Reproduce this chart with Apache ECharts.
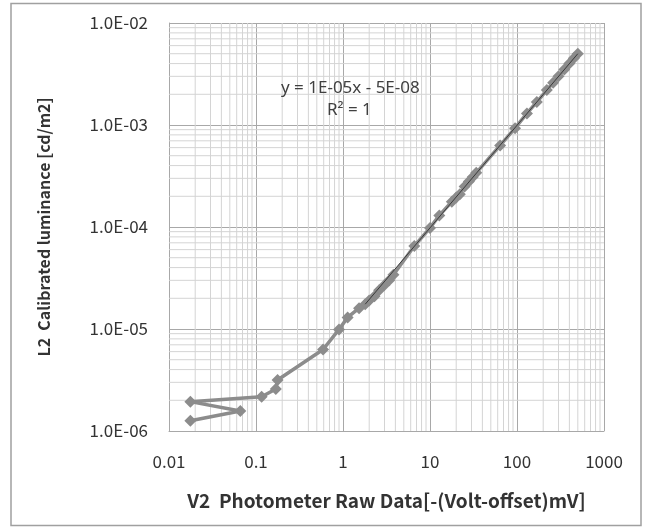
<!DOCTYPE html>
<html>

<head>
  <meta charset="UTF-8" />
  <title></title>
  <style type="text/css">
    * {
      margin: 0;
      padding: 0;
    }
    #main {
      width: 645px;
      height: 528px;
      background-color: #fff;
    }
  </style>
</head>

<body>
  <div id="main"></div>
</body>
<script src="https://cdn.jsdelivr.net/npm/echarts@6/dist/echarts.min.js"></script>
<script type="text/javascript">
  let rawX = [500, 450, 400, 350, 300, 260, 220, 169, 130, 95, 64, 34, 31, 28, 25, 22, 20, 17.8, 12.8, 10,
    6.6, 3.8, 3.4, 3.0, 2.6, 2.3, 2.0, 1.8, 1.53, 1.13, 0.9, 0.59, 0.177, 0.169, 0.116, 0.0176, 0.066, 0.0176]
  let lumY = [5.0e-3, 4.5e-3, 4.0e-3, 3.5e-3, 3.0e-3, 2.6e-3, 2.2e-3, 1.68e-3, 1.3e-3, 9.3e-4, 6.3e-4, 3.4e-4,
    3.1e-4, 2.8e-4, 2.5e-4, 2.1e-4, 1.95e-4, 1.77e-4, 1.3e-4, 9.8e-5, 6.5e-5, 3.4e-5, 3.0e-5, 2.7e-5, 2.4e-5,
    2.1e-5, 1.9e-5, 1.75e-5, 1.6e-5, 1.3e-5, 9.9e-6, 6.3e-6, 3.16e-6, 2.58e-6, 2.17e-6, 1.94e-6, 1.57e-6, 1.26e-6]
  // 近似直线 y = 1E-05x - 5E-08 的两端
  let trendX = [1.8, 500]
  let trendY = [1.75e-5, 5.0e-3]
  // 坐标范围
  let xRange = [0.01, 1000]
  let yRange = [1e-6, 1e-2]

  let fontJP = '"Noto Sans CJK JP", "Noto Sans", sans-serif'
  let majorColor = '#a8a8a8'
  let minorColor = '#d4d4d4'

  // 对数网格的副刻度 2..9
  function minorValues(range) {
    let list = []
    for (let e = Math.round(Math.log10(range[0])); e < Math.round(Math.log10(range[1])); e++) {
      for (let k = 2; k <= 9; k++) {
        list.push(+(k * Math.pow(10, e)).toPrecision(3))
      }
    }
    return list
  }

  // 副网格线: 用 '-' 断开的折线
  let minorData = []
  minorValues(xRange).forEach(v => {
    minorData.push([v, yRange[0]], [v, yRange[1]], ['-', '-'])
  })
  minorValues(yRange).forEach(v => {
    minorData.push([xRange[0], v], [xRange[1], v], ['-', '-'])
  })

  let myChart = echarts.init(document.getElementById('main'))
  let option = {
    animation: false,
    grid: {
      left: 169,
      top: 23,
      right: 41,
      bottom: 97
    },
    graphic: [{
      type: 'rect',
      shape: { x: 11, y: 3.5, width: 630, height: 522 },
      style: { fill: 'none', stroke: '#a0a0a0', lineWidth: 1.5 },
      silent: true
    }, {
      type: 'text',
      left: 281,
      top: 80,
      z: 10,
      style: {
        text: 'y = 1E-05x - 5E-08',
        font: '17px "Noto Sans", sans-serif',
        fill: '#404040'
      }
    }, {
      type: 'text',
      left: 327,
      top: 102,
      z: 10,
      style: {
        text: 'R² = 1',
        font: '17px "Noto Sans", sans-serif',
        fill: '#404040'
      }
    }],
    xAxis: {
      type: 'log',
      logBase: 10,
      min: xRange[0],
      max: xRange[1],
      name: 'V2  Photometer Raw Data[-(Volt-offset)mV]',
      nameLocation: 'middle',
      nameGap: 60,
      nameTextStyle: {
        fontFamily: fontJP,
        fontWeight: 'bold',
        fontSize: 19,
        color: '#333'
      },
      axisLine: { lineStyle: { color: majorColor } },
      axisTick: { show: false },
      axisLabel: {
        margin: 22,
        fontFamily: fontJP,
        fontSize: 17,
        color: '#333',
        formatter: v => String(Number(v.toPrecision(3)))
      },
      splitLine: { show: true, lineStyle: { color: majorColor } }
    },
    yAxis: {
      type: 'log',
      logBase: 10,
      min: yRange[0],
      max: yRange[1],
      name: 'L2  Calibrated luminance [cd/m2]',
      nameLocation: 'middle',
      nameGap: 117,
      nameTextStyle: {
        fontFamily: fontJP,
        fontWeight: 'bold',
        fontSize: 16,
        color: '#333'
      },
      axisLine: { show: true, lineStyle: { color: majorColor } },
      axisTick: { show: false },
      axisLabel: {
        margin: 21,
        fontFamily: fontJP,
        fontSize: 17,
        color: '#333',
        formatter: v => {
          let s = v.toExponential(1).toUpperCase()
          return s.replace(/E([+-])(\d)$/, 'E$10$2')
        }
      },
      splitLine: { show: true, lineStyle: { color: majorColor } }
    },
    series: [{
      // 副网格线
      type: 'line',
      data: minorData,
      z: 1,
      silent: true,
      symbol: 'none',
      connectNulls: false,
      lineStyle: { color: minorColor, width: 1 }
    }, {
      type: 'line',
      data: rawX.map((x, i) => [x, lumY[i]]),
      z: 3,
      symbol: 'diamond',
      symbolSize: 12,
      itemStyle: { color: '#8c8c8c' },
      lineStyle: { color: '#8c8c8c', width: 3.5 }
    }, {
      type: 'line',
      data: trendX.map((x, i) => [x, trendY[i]]),
      z: 4,
      symbol: 'none',
      lineStyle: { color: '#3a3a3a', width: 1 }
    }]
  }
  myChart.setOption(option)
</script>

</html>
